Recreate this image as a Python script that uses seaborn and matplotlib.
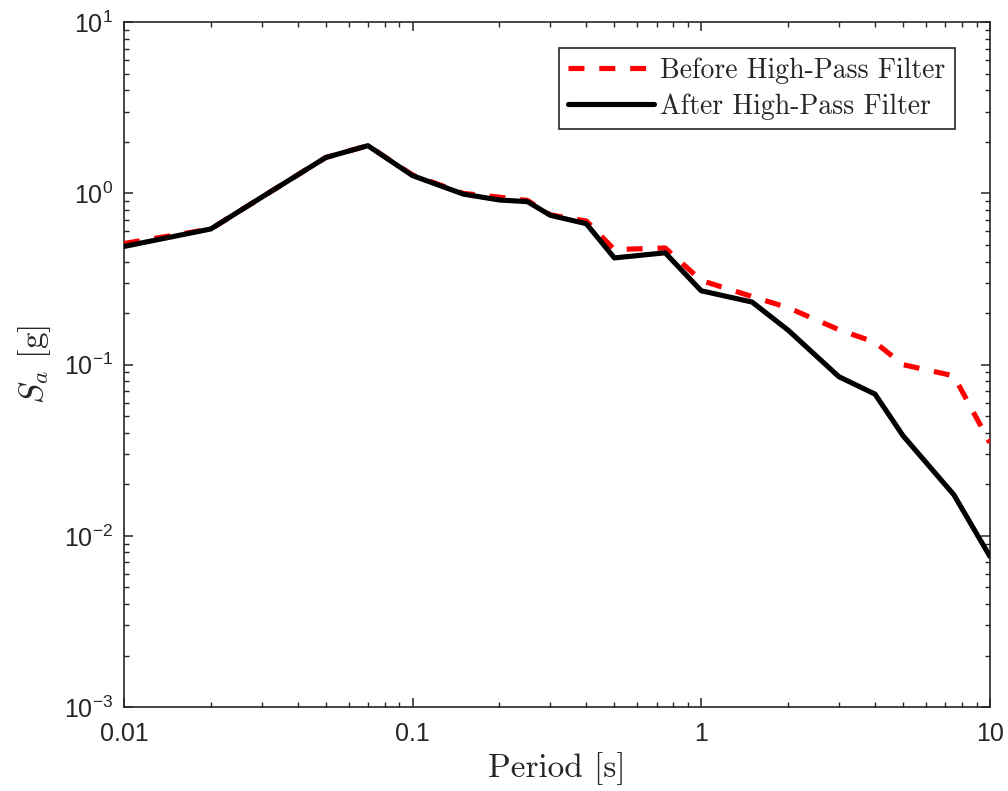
import numpy as np
import pandas as pd
import matplotlib
matplotlib.use("Agg")
import matplotlib.pyplot as plt
import matplotlib.ticker as mticker
import seaborn as sns

# Data
period = [0.01, 0.02, 0.03, 0.05, 0.07, 0.1, 0.15, 0.2, 0.25, 0.3, 0.4, 0.5,
          0.75, 1.0, 1.5, 2.0, 3.0, 4.0, 5.0, 7.5, 10.0]
sa_before = [0.51, 0.62, 0.95, 1.62, 1.90, 1.28, 1.00, 0.95, 0.91, 0.75, 0.69,
             0.47, 0.48, 0.31, 0.25, 0.215, 0.16, 0.135, 0.10, 0.086, 0.035]
sa_after = [0.49, 0.62, 0.95, 1.62, 1.90, 1.27, 0.99, 0.915, 0.895, 0.745, 0.665,
            0.42, 0.45, 0.27, 0.232, 0.159, 0.085, 0.0673, 0.0385, 0.0174, 0.0076]
label_before = "Before High-Pass Filter"
label_after = "After High-Pass Filter"
xtick_vals = [0.01, 0.1, 1, 10]
xtick_labels = ["0.01", "0.1", "1", "10"]

sns.set_style("ticks")
plt.rcParams["font.family"] = ["Liberation Sans", "DejaVu Sans"]

df_b = pd.DataFrame({"T": period, "Sa": sa_before})
df_a = pd.DataFrame({"T": period, "Sa": sa_after})

fig, ax = plt.subplots(figsize=(10.08, 7.91), dpi=100)
fig.subplots_adjust(left=0.123, right=0.982, bottom=0.106, top=0.972)

sns.lineplot(data=df_b, x="T", y="Sa", ax=ax, color="#ff0000", lw=3.7,
             label=label_before)
sns.lineplot(data=df_a, x="T", y="Sa", ax=ax, color="black", lw=3.7,
             label=label_after)
ax.lines[0].set_dashes([3.1, 2.9])
ax.lines[0].set_zorder(3)
ax.lines[1].set_zorder(4)

ax.set_xscale("log")
ax.set_yscale("log")
ax.set_xlim(0.01, 10)
ax.set_ylim(1e-3, 1e1)

ax.xaxis.set_major_locator(mticker.FixedLocator(xtick_vals))
ax.xaxis.set_major_formatter(mticker.FixedFormatter(xtick_labels))
ax.xaxis.set_minor_locator(mticker.LogLocator(base=10, subs=np.arange(2, 10)))
ax.xaxis.set_minor_formatter(mticker.NullFormatter())
ax.yaxis.set_major_locator(mticker.LogLocator(base=10, numticks=10))
ax.yaxis.set_major_formatter(mticker.LogFormatterSciNotation())
ax.yaxis.set_minor_locator(mticker.LogLocator(base=10, subs=np.arange(2, 10), numticks=10))
ax.yaxis.set_minor_formatter(mticker.NullFormatter())

gray = "#262626"
for s in ax.spines.values():
    s.set_visible(True)
    s.set_color(gray)
    s.set_linewidth(1.2)
ax.tick_params(which="both", direction="in", top=True, right=True,
               colors=gray, labelcolor=gray, labelsize=18)
ax.tick_params(which="major", length=6.5, width=1.1)
ax.tick_params(which="minor", length=3.6, width=1.0)
ax.tick_params(axis="x", which="major", pad=11)
ax.tick_params(axis="y", which="major", pad=8)

ax.set_xlabel("Period [s]", fontfamily="cmr10", fontsize=24, color=gray, labelpad=4)
ax.set_ylabel("$S_a$ [g]", fontfamily="cmr10", math_fontfamily="cm",
              fontsize=24, color=gray, labelpad=8)

leg = ax.legend(loc="upper right", bbox_to_anchor=(0.9596, 0.9625),
                prop={"family": "cmr10", "size": 20},
                frameon=True, fancybox=False, edgecolor=gray, framealpha=1,
                handlelength=3.1, handletextpad=0.2, borderpad=0.35,
                labelspacing=0.33, borderaxespad=0.0)
leg.get_frame().set_linewidth(1.2)

fig.savefig("out.png", dpi=100)
